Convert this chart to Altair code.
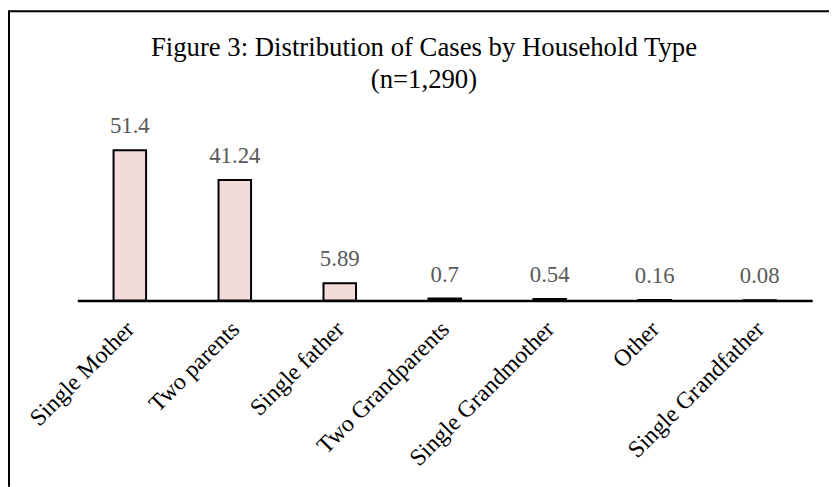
import altair as alt
import pandas as pd

categories = ["Single Mother", "Two parents", "Single father", "Two Grandparents",
              "Single Grandmother", "Other", "Single Grandfather"]
values = [51.4, 41.24, 5.89, 0.7, 0.54, 0.16, 0.08]
labels = ["51.4", "41.24", "5.89", "0.7", "0.54", "0.16", "0.08"]
title_lines = ["Figure 3: Distribution of Cases by Household Type", "(n=1,290)"]

df = pd.DataFrame({"cat": categories, "val": values, "lab": labels})

FONT = "Liberation Serif"
W, H = 742, 177

x = alt.X("cat:N", sort=categories, title=None,
          scale=alt.Scale(paddingInner=0.69, paddingOuter=0.345),
          axis=alt.Axis(labelAngle=-45, labelAlign="right", labelBaseline="middle",
                        labelFont=FONT, labelFontSize=24, labelColor="black",
                        labelPadding=25, labelOffset=1, ticks=False, domainColor="black",
                        domainWidth=2.5, labelLimit=400))
y = alt.Y("val:Q", scale=alt.Scale(domain=[0, 60]), axis=None)

base = alt.Chart(df)
bars = base.mark_bar(fill="#F2DCDB", stroke="black", strokeWidth=2).encode(x=x, y=y)
text = base.mark_text(font=FONT, fontSize=23, color="#595959", baseline="alphabetic",
                      dy=-17).encode(x=x, y=y, text="lab:N")

one = pd.DataFrame({"a": [0]})
title = alt.Chart(one).mark_text(text=title_lines, font=FONT, fontSize=27, color="black",
                                 baseline="alphabetic", align="center", lineHeight=32).encode(
    x=alt.value(350), y=alt.value(-70))
frame_top = alt.Chart(one).mark_rule(color="black", strokeWidth=2).encode(
    x=alt.value(-69), x2=alt.value(760), y=alt.value(-115))
frame_left = alt.Chart(one).mark_rule(color="black", strokeWidth=2).encode(
    x=alt.value(-69), y=alt.value(-116), y2=alt.value(365))

chart = alt.layer(bars, text, title, frame_top, frame_left).properties(
    width=W, height=H, background="white",
    autosize=alt.AutoSizeParams(type="none"),
    padding={"left": 70, "top": 116, "right": 17, "bottom": 186},
).configure_view(strokeWidth=0, stroke="transparent")

chart.save("out.html", embed_options={"renderer": "svg", "actions": False})
